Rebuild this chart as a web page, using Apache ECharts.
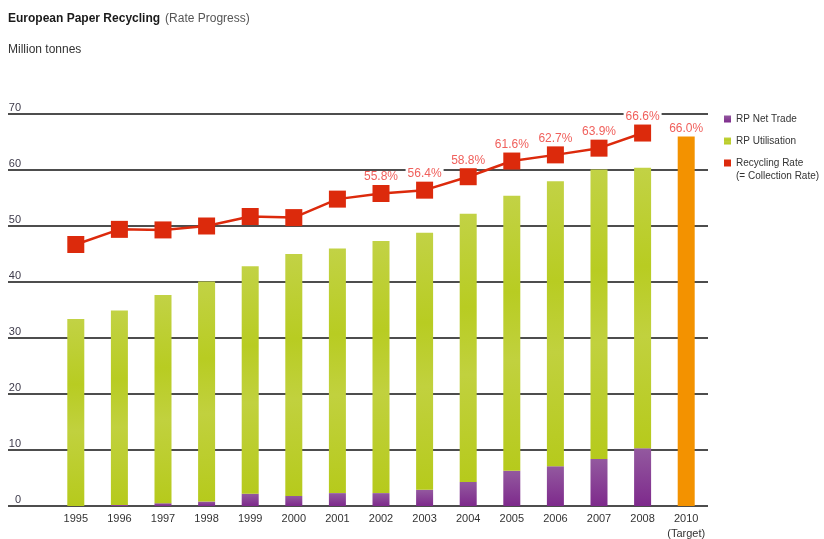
<!DOCTYPE html>
<html>
<head>
<meta charset="utf-8">
<script src="https://cdn.jsdelivr.net/npm/echarts@6/dist/echarts.min.js"></script>
<style>
  html, body { margin: 0; padding: 0; background: #fff; }
  #chart { width: 824px; height: 539px; }
</style>
</head>
<body>
<div id="chart"></div>
<script>
// Years on the category axis (2009 is not shown; 2010 is the target year)
var years = ['1995', '1996', '1997', '1998', '1999', '2000', '2001', '2002',
             '2003', '2004', '2005', '2006', '2007', '2008', '2010'];

// Recovered paper net trade, million tonnes
var netTrade = [-0.3, 0.2, 0.5, 0.8, 2.2, 1.8, 2.3, 2.3, 2.9, 4.3, 6.3, 7.1, 8.4, 10.3, null];

// Recovered paper utilisation, million tonnes
var utilisation = [33.4, 34.7, 37.2, 39.3, 40.6, 43.2, 43.7, 45.0, 45.9, 47.9, 49.1, 50.9, 51.7, 50.1, null];

// 2010 recycling rate target, %
var target = [null, null, null, null, null, null, null, null, null, null, null, null, null, null, 66.0];

// Recycling rate (= collection rate), %
var recyclingRate = [46.7, 49.4, 49.3, 50.0, 51.7, 51.5, 54.8, 55.8, 56.4, 58.8, 61.6, 62.7, 63.9, 66.6, null];

// Years whose rate gets a value label
var labelledYears = ['2002', '2003', '2004', '2005', '2006', '2007', '2008'];

// Value axis ticks
var yMin = 0, yMax = 70, yStep = 10;

var chart = echarts.init(document.getElementById('chart'), null, { renderer: 'canvas' });

var labelColor = '#f0605c';

var rateData = recyclingRate.map(function (v, i) {
  var show = labelledYears.indexOf(years[i]) >= 0;
  return { value: v, label: { show: show } };
});

var option = {
  backgroundColor: '#ffffff',
  animation: false,
  textStyle: { fontFamily: 'Liberation Sans, Arial, sans-serif' },
  title: {
    left: 8,
    top: 10,
    padding: 0,
    text: '{b|European Paper Recycling} {n|(Rate Progress)}',
    textStyle: {
      rich: {
        b: { fontSize: 12, fontWeight: 'bold', color: '#1a1a1a', fontFamily: 'Liberation Sans' },
        n: { fontSize: 12, fontWeight: 'normal', color: '#555', fontFamily: 'Liberation Sans' }
      }
    }
  },
  legend: {
    orient: 'vertical',
    left: 724,
    top: 112,
    padding: 0,
    itemWidth: 7,
    itemHeight: 7,
    itemGap: 8,
    icon: 'rect',
    data: ['RP Net Trade', 'RP Utilisation', 'Recycling Rate'],
    textStyle: { fontSize: 10, color: '#333', lineHeight: 14, padding: [0, 0, 0, 0] },
    selectedMode: false
  },
  graphic: [
    {
      type: 'text',
      left: 8,
      top: 44,
      style: { text: 'Million tonnes', fontSize: 12, fill: '#333', fontFamily: 'Liberation Sans' }
    },
    {
      type: 'text',
      left: 736,
      top: 171,
      style: { text: '(= Collection Rate)', fontSize: 10, fill: '#333', fontFamily: 'Liberation Sans' }
    }
  ],
  grid: [
    // wide grid carrying the horizontal rules and tick labels
    { left: 8, right: 116, top: 114, bottom: 33, outerBoundsMode: 'none' },
    // plotting grid for bars and line
    { left: 54, right: 116, top: 114, bottom: 33, outerBoundsMode: 'none' }
  ],
  xAxis: [
    { gridIndex: 0, type: 'value', show: false, min: 0, max: 1 },
    {
      gridIndex: 1,
      type: 'category',
      data: years,
      axisLine: { show: false },
      axisTick: { show: false },
      axisLabel: {
        interval: 0,
        fontSize: 11,
        color: '#333',
        margin: 5,
        lineHeight: 15,
        formatter: function (v) { return v === '2010' ? '2010\n(Target)' : v; }
      }
    }
  ],
  yAxis: [
    {
      gridIndex: 0,
      type: 'value',
      min: yMin,
      max: yMax,
      interval: yStep,
      axisLine: { show: false },
      axisTick: { show: false },
      splitLine: { lineStyle: { color: '#4d4d4d', width: 2 } },
      axisLabel: {
        inside: true,
        margin: 13,
        align: 'right',
        verticalAlign: 'bottom',
        padding: [0, 0, 1, 0],
        fontSize: 11,
        color: '#3d3a4a'
      }
    },
    { gridIndex: 1, type: 'value', min: yMin, max: yMax, interval: yStep, show: false }
  ],
  series: [
    {
      name: 'RP Net Trade',
      type: 'bar',
      xAxisIndex: 1,
      yAxisIndex: 1,
      stack: 'total',
      barWidth: 17,
      data: netTrade,
      itemStyle: {
        color: new echarts.graphic.LinearGradient(0, 0, 0, 1, [
          { offset: 0, color: '#93599f' },
          { offset: 1, color: '#7e2a8c' }
        ])
      },
      z: 3
    },
    {
      name: 'RP Utilisation',
      type: 'bar',
      xAxisIndex: 1,
      yAxisIndex: 1,
      stack: 'total',
      barWidth: 17,
      data: utilisation,
      itemStyle: {
        color: new echarts.graphic.LinearGradient(0, 0, 0, 1, [
          { offset: 0, color: '#c2d245' },
          { offset: 0.35, color: '#b8cc22' },
          { offset: 0.6, color: '#c1d13e' },
          { offset: 1, color: '#b6ca1c' }
        ])
      },
      z: 3
    },
    {
      name: 'Target',
      type: 'bar',
      xAxisIndex: 1,
      yAxisIndex: 1,
      stack: 'total',
      barWidth: 17,
      data: target,
      itemStyle: { color: '#f39200' },
      label: {
        show: true,
        position: 'top',
        distance: 2,
        fontSize: 12,
        color: labelColor,
        formatter: function (p) { return p.value.toFixed(1) + '%'; }
      },
      z: 3
    },
    {
      name: 'Recycling Rate',
      type: 'line',
      xAxisIndex: 1,
      yAxisIndex: 1,
      data: rateData,
      symbol: 'rect',
      symbolSize: 17,
      showAllSymbol: true,
      connectNulls: false,
      itemStyle: { color: '#dc2a0c' },
      lineStyle: { color: '#dc2a0c', width: 2.5 },
      label: {
        position: 'top',
        distance: 2,
        fontSize: 12,
        color: labelColor,
        backgroundColor: '#ffffff',
        padding: [0, 2, 0, 2],
        formatter: function (p) { return p.value.toFixed(1) + '%'; }
      },
      z: 5
    }
  ]
};

chart.setOption(option);
</script>
</body>
</html>
